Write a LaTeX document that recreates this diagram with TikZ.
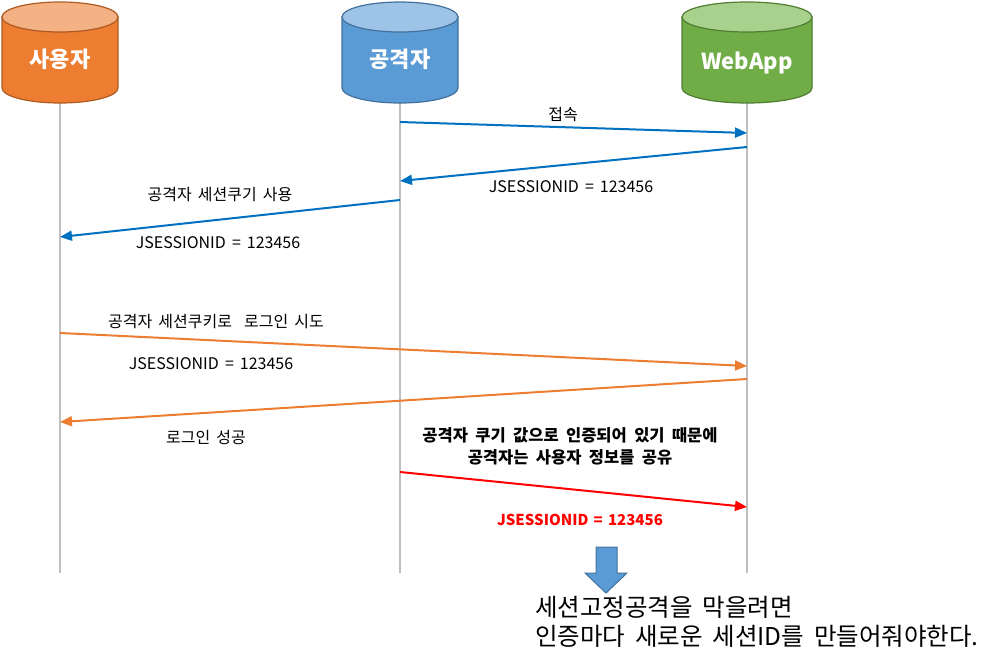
\documentclass[tikz,border=0pt]{standalone}
\usepackage{fontspec}
\setmainfont{Noto Sans CJK KR}
\usetikzlibrary{arrows.meta}
\definecolor{UserBody}{HTML}{ED7D31}
\definecolor{UserLid}{HTML}{F4B183}
\definecolor{UserEdge}{HTML}{AE5A21}
\definecolor{HackBody}{HTML}{5B9BD5}
\definecolor{HackLid}{HTML}{9DC3E6}
\definecolor{HackEdge}{HTML}{41719C}
\definecolor{AppBody}{HTML}{70AD47}
\definecolor{AppLid}{HTML}{A9D18E}
\definecolor{AppEdge}{HTML}{507E32}
\definecolor{LifeGray}{HTML}{BFBFBF}
\definecolor{MsgBlue}{HTML}{0070C0}
\definecolor{MsgOrange}{HTML}{ED7D31}
\definecolor{MsgRed}{HTML}{FF0000}
\tikzset{
  every node/.style={font={\fontsize{16}{19}\selectfont\spaceskip=0.38em\relax}, text=black, inner sep=0pt},
  actor/.style={font=\fontsize{22}{24}\selectfont\bfseries, text=white},
  lifeline/.style={draw=LifeGray, line width=2pt},
  message/.style={-{Triangle[length=12pt,width=10pt]}, line width=2pt},
  outline/.style={line width=1.2pt},
}

\begin{document}
\begin{tikzpicture}[x=1pt,y=-1pt]
  \useasboundingbox (0,0) rectangle (993,670);
  % Lifelines
  \foreach \cx in {60,400,747}
    \draw[lifeline] (\cx,103) -- (\cx,573);
  % Cylinders (centre x / half width / colours)
  \foreach \cx/\rx/\body/\lid/\edge in {60/58/UserBody/UserLid/UserEdge,
      400/58/HackBody/HackLid/HackEdge, 747/65/AppBody/AppLid/AppEdge} {
    \filldraw[outline, fill=\body, draw=\edge]
      (\cx-\rx,17) -- (\cx-\rx,88) arc (180:360:\rx pt and 15pt) -- (\cx+\rx,17) -- cycle;
    \filldraw[outline, fill=\lid, draw=\edge] (\cx,17) ellipse (\rx pt and 15pt);
  }
  \node[actor] (user) at (60,59) {사용자};
  \node[actor] (hacker) at (400,59) {공격자};
  \node[actor] (webapp) at (747,63) {WebApp};
  % Message end points on the lifelines
  \coordinate (h1) at (400,122);  \coordinate (w1) at (747,133);
  \coordinate (w2) at (747,147);  \coordinate (h2) at (400,181);
  \coordinate (h3) at (400,200);  \coordinate (u3) at (60,237);
  \coordinate (u4) at (60,333);   \coordinate (w4) at (747,366);
  \coordinate (w5) at (747,379);  \coordinate (u5) at (60,422);
  \coordinate (h6) at (400,472);  \coordinate (w6) at (747,507);
  % Messages
  \draw[message, MsgBlue] (h1) -- (w1);
  \draw[message, MsgBlue] (w2) -- (h2);
  \draw[message, MsgBlue] (h3) -- (u3);
  \draw[message, MsgOrange] (u4) -- (w4);
  \draw[message, MsgOrange] (w5) -- (u5);
  \draw[message, MsgRed] (h6) -- (w6);
  % Labels
  \node (connect) at (563,115) {접속};
  \node (sid1) at (571,187) {JSESSIONID = 123456};
  \node (usecookie) at (220,195) {공격자 세션쿠기 사용};
  \node (sid2) at (218,243) {JSESSIONID = 123456};
  \node (trylogin) at (216,322) {공격자 세션쿠키로\ \ 로그인 시도};
  \node (sid3) at (211,364) {JSESSIONID = 123456};
  \node (loginok) at (206,437) {로그인 성공};
  \node[font={\fontsize{16.5}{22}\selectfont\bfseries\spaceskip=0.45em\relax}, align=center] (shared) at (570,446)
    {공격자 쿠기 값으로 인증되어 있기 때문에\\공격자는 사용자 정보를 공유};
  \node[font={\fontsize{15}{19}\selectfont\bfseries\spaceskip=0.35em\relax}, text=MsgRed] (sid4) at (580,520) {JSESSIONID = 123456};
  % Conclusion
  \filldraw[line width=1pt, fill=HackBody, draw=HackEdge]
    (596,547) -- (617,547) -- (617,573) -- (627,573) -- (606,593)
    -- (585,573) -- (596,573) -- cycle;
  \node[anchor=west, align=left, font={\fontsize{24.5}{29}\selectfont\spaceskip=0.4em\relax}] (advice) at (535,622)
    {세션고정공격을 막을려면\\인증마다 새로운 세션ID를 만들어줘야한다.};
\end{tikzpicture}
\end{document}
